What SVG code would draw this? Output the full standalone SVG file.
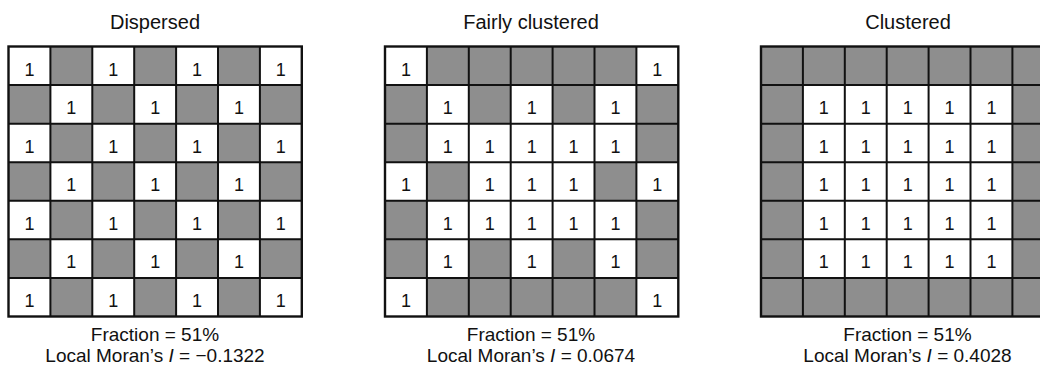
<svg xmlns="http://www.w3.org/2000/svg" width="1040" height="366" viewBox="0 0 1040 366">
<style>
text{font-family:"Liberation Sans",Arial,Helvetica,sans-serif;fill:#111;text-anchor:middle}
.title{font-size:20px}
.cap{font-size:19px}
.v{font-size:18px}
.g{fill:#8e8e8e}
.bg{fill:#fff}
.ln{fill:none;stroke:#111;stroke-width:2}
.bd{fill:none;stroke:#111;stroke-width:2.4}
</style>
<defs>
<path id="lines" class="ln" d="M41.9 0V270M83.8 0V270M125.7 0V270M167.6 0V270M209.5 0V270M251.4 0V270M0 38.57H293.3M0 77.14H293.3M0 115.71H293.3M0 154.28H293.3M0 192.85H293.3M0 231.42H293.3"/>
</defs>
<g id="dispersed">
<text class="title" x="155" y="29">Dispersed</text>
<g transform="translate(8.5,46.5)">
<rect class="bg" width="293.3" height="270"/>
<rect class="g" x="41.9" y="0" width="41.9" height="38.57"/><rect class="g" x="125.7" y="0" width="41.9" height="38.57"/><rect class="g" x="209.5" y="0" width="41.9" height="38.57"/>
<rect class="g" x="0" y="38.57" width="41.9" height="38.57"/><rect class="g" x="83.8" y="38.57" width="41.9" height="38.57"/><rect class="g" x="167.6" y="38.57" width="41.9" height="38.57"/><rect class="g" x="251.4" y="38.57" width="41.9" height="38.57"/>
<rect class="g" x="41.9" y="77.14" width="41.9" height="38.57"/><rect class="g" x="125.7" y="77.14" width="41.9" height="38.57"/><rect class="g" x="209.5" y="77.14" width="41.9" height="38.57"/>
<rect class="g" x="0" y="115.71" width="41.9" height="38.57"/><rect class="g" x="83.8" y="115.71" width="41.9" height="38.57"/><rect class="g" x="167.6" y="115.71" width="41.9" height="38.57"/><rect class="g" x="251.4" y="115.71" width="41.9" height="38.57"/>
<rect class="g" x="41.9" y="154.28" width="41.9" height="38.57"/><rect class="g" x="125.7" y="154.28" width="41.9" height="38.57"/><rect class="g" x="209.5" y="154.28" width="41.9" height="38.57"/>
<rect class="g" x="0" y="192.85" width="41.9" height="38.57"/><rect class="g" x="83.8" y="192.85" width="41.9" height="38.57"/><rect class="g" x="167.6" y="192.85" width="41.9" height="38.57"/><rect class="g" x="251.4" y="192.85" width="41.9" height="38.57"/>
<rect class="g" x="41.9" y="231.42" width="41.9" height="38.57"/><rect class="g" x="125.7" y="231.42" width="41.9" height="38.57"/><rect class="g" x="209.5" y="231.42" width="41.9" height="38.57"/>
<use href="#lines"/>
<rect class="bd" width="293.3" height="270"/>
<text class="v" x="20.95" y="29">1</text><text class="v" x="104.75" y="29">1</text><text class="v" x="188.55" y="29">1</text><text class="v" x="272.35" y="29">1</text>
<text class="v" x="62.85" y="67.57">1</text><text class="v" x="146.65" y="67.57">1</text><text class="v" x="230.45" y="67.57">1</text>
<text class="v" x="20.95" y="106.14">1</text><text class="v" x="104.75" y="106.14">1</text><text class="v" x="188.55" y="106.14">1</text><text class="v" x="272.35" y="106.14">1</text>
<text class="v" x="62.85" y="144.71">1</text><text class="v" x="146.65" y="144.71">1</text><text class="v" x="230.45" y="144.71">1</text>
<text class="v" x="20.95" y="183.28">1</text><text class="v" x="104.75" y="183.28">1</text><text class="v" x="188.55" y="183.28">1</text><text class="v" x="272.35" y="183.28">1</text>
<text class="v" x="62.85" y="221.85">1</text><text class="v" x="146.65" y="221.85">1</text><text class="v" x="230.45" y="221.85">1</text>
<text class="v" x="20.95" y="260.42">1</text><text class="v" x="104.75" y="260.42">1</text><text class="v" x="188.55" y="260.42">1</text><text class="v" x="272.35" y="260.42">1</text>
</g>
<text class="cap" x="155" y="341">Fraction = 51%</text>
<text class="cap" x="155" y="362">Local Moran’s <tspan font-style="italic">I</tspan> = −0.1322</text>
</g>
<g id="fairly-clustered">
<text class="title" x="531" y="29">Fairly clustered</text>
<g transform="translate(385,46.5)">
<rect class="bg" width="293.3" height="270"/>
<rect class="g" x="41.9" y="0" width="209.5" height="38.57"/>
<rect class="g" x="0" y="38.57" width="41.9" height="38.57"/><rect class="g" x="83.8" y="38.57" width="41.9" height="38.57"/><rect class="g" x="167.6" y="38.57" width="41.9" height="38.57"/><rect class="g" x="251.4" y="38.57" width="41.9" height="38.57"/>
<rect class="g" x="0" y="77.14" width="41.9" height="38.57"/><rect class="g" x="251.4" y="77.14" width="41.9" height="38.57"/>
<rect class="g" x="41.9" y="115.71" width="41.9" height="38.57"/><rect class="g" x="209.5" y="115.71" width="41.9" height="38.57"/>
<rect class="g" x="0" y="154.28" width="41.9" height="38.57"/><rect class="g" x="251.4" y="154.28" width="41.9" height="38.57"/>
<rect class="g" x="0" y="192.85" width="41.9" height="38.57"/><rect class="g" x="83.8" y="192.85" width="41.9" height="38.57"/><rect class="g" x="167.6" y="192.85" width="41.9" height="38.57"/><rect class="g" x="251.4" y="192.85" width="41.9" height="38.57"/>
<rect class="g" x="41.9" y="231.42" width="209.5" height="38.57"/>
<use href="#lines"/>
<rect class="bd" width="293.3" height="270"/>
<text class="v" x="20.95" y="29">1</text><text class="v" x="272.35" y="29">1</text>
<text class="v" x="62.85" y="67.57">1</text><text class="v" x="146.65" y="67.57">1</text><text class="v" x="230.45" y="67.57">1</text>
<text class="v" x="62.85" y="106.14">1</text><text class="v" x="104.75" y="106.14">1</text><text class="v" x="146.65" y="106.14">1</text><text class="v" x="188.55" y="106.14">1</text><text class="v" x="230.45" y="106.14">1</text>
<text class="v" x="20.95" y="144.71">1</text><text class="v" x="104.75" y="144.71">1</text><text class="v" x="146.65" y="144.71">1</text><text class="v" x="188.55" y="144.71">1</text><text class="v" x="272.35" y="144.71">1</text>
<text class="v" x="62.85" y="183.28">1</text><text class="v" x="104.75" y="183.28">1</text><text class="v" x="146.65" y="183.28">1</text><text class="v" x="188.55" y="183.28">1</text><text class="v" x="230.45" y="183.28">1</text>
<text class="v" x="62.85" y="221.85">1</text><text class="v" x="146.65" y="221.85">1</text><text class="v" x="230.45" y="221.85">1</text>
<text class="v" x="20.95" y="260.42">1</text><text class="v" x="272.35" y="260.42">1</text>
</g>
<text class="cap" x="531" y="341">Fraction = 51%</text>
<text class="cap" x="531" y="362">Local Moran’s <tspan font-style="italic">I</tspan> = 0.0674</text>
</g>
<g id="clustered">
<text class="title" x="908" y="29">Clustered</text>
<g transform="translate(761,46.5)">
<rect class="bg" width="293.3" height="270"/>
<rect class="g" x="0" y="0" width="293.3" height="38.57"/>
<rect class="g" x="0" y="231.42" width="293.3" height="38.57"/>
<rect class="g" x="0" y="38.57" width="41.9" height="192.85"/>
<rect class="g" x="251.4" y="38.57" width="41.9" height="192.85"/>
<use href="#lines"/>
<rect class="bd" width="293.3" height="270"/>
<text class="v" x="62.85" y="67.57">1</text><text class="v" x="104.75" y="67.57">1</text><text class="v" x="146.65" y="67.57">1</text><text class="v" x="188.55" y="67.57">1</text><text class="v" x="230.45" y="67.57">1</text>
<text class="v" x="62.85" y="106.14">1</text><text class="v" x="104.75" y="106.14">1</text><text class="v" x="146.65" y="106.14">1</text><text class="v" x="188.55" y="106.14">1</text><text class="v" x="230.45" y="106.14">1</text>
<text class="v" x="62.85" y="144.71">1</text><text class="v" x="104.75" y="144.71">1</text><text class="v" x="146.65" y="144.71">1</text><text class="v" x="188.55" y="144.71">1</text><text class="v" x="230.45" y="144.71">1</text>
<text class="v" x="62.85" y="183.28">1</text><text class="v" x="104.75" y="183.28">1</text><text class="v" x="146.65" y="183.28">1</text><text class="v" x="188.55" y="183.28">1</text><text class="v" x="230.45" y="183.28">1</text>
<text class="v" x="62.85" y="221.85">1</text><text class="v" x="104.75" y="221.85">1</text><text class="v" x="146.65" y="221.85">1</text><text class="v" x="188.55" y="221.85">1</text><text class="v" x="230.45" y="221.85">1</text>
</g>
<text class="cap" x="907.5" y="341">Fraction = 51%</text>
<text class="cap" x="907.5" y="362">Local Moran’s <tspan font-style="italic">I</tspan> = 0.4028</text>
</g>
</svg>
